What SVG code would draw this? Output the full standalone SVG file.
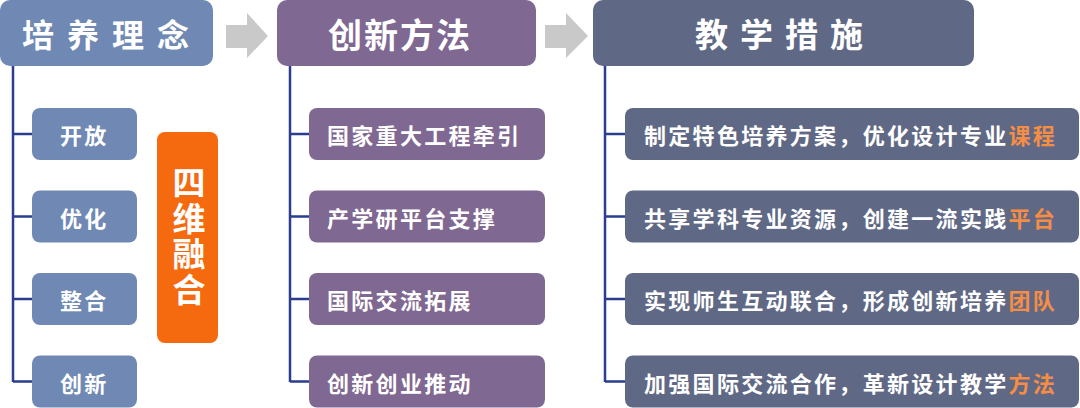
<svg xmlns="http://www.w3.org/2000/svg" width="1080" height="408" viewBox="0 0 1080 408">
<style>
.t{font-family:"Noto Sans CJK SC","Noto Sans",sans-serif;font-weight:700;fill:#ffffff;dominant-baseline:central}
.h{font-size:33px}
.s{font-size:22px;letter-spacing:2.3px}
.v{font-size:33px;writing-mode:vertical-rl;text-orientation:upright;letter-spacing:2.5px}
.c1{fill:#6f89b4}
.c2{fill:#7f6891}
.c3{fill:#5f6985}
.hl{fill:#f58d45}
.ln{fill:none;stroke:#2a3d8f;stroke-width:2.5}
.ar{fill:#c9c9c9}
</style>
<rect width="1080" height="408" fill="#ffffff"/>
<g id="connectors">
<path class="ln" d="M13,66 V382 M13,134 H32 M13,216.5 H32 M13,299 H32 M13,381.5 H32"/>
<path class="ln" d="M290,66 V382 M290,134 H309 M290,216.5 H309 M290,299 H309 M290,381.5 H309"/>
<path class="ln" d="M605,66 V382 M605,134 H625 M605,216.5 H625 M605,299 H625 M605,381.5 H625"/>
<polygon class="ar" points="226,25 247,25 247,13 268,36 247,58 247,48 226,48"/>
<polygon class="ar" points="545,25 566,25 566,13 588,36 566,58 566,48 545,48"/>
</g>
<g id="h1"><rect class="c1" x="0" y="0" width="213" height="66" rx="10"/><text class="t h" x="22" y="33" style="font-size:32px;letter-spacing:13px">培养理念</text></g>
<g id="h2"><rect class="c2" x="277" y="0" width="259" height="66" rx="10"/><text class="t h" x="328" y="33" style="font-size:34px;letter-spacing:2px">创新方法</text></g>
<g id="h3"><rect class="c3" x="593" y="0" width="381" height="66" rx="10"/><text class="t h" x="695" y="33" style="letter-spacing:12px">教学措施</text></g>

<g id="a1"><rect class="c1" x="32" y="108" width="105" height="52" rx="8"/><text class="t s" x="60" y="134">开放</text></g>
<g id="a2"><rect class="c1" x="32" y="190.5" width="105" height="52" rx="8"/><text class="t s" x="60" y="216.5">优化</text></g>
<g id="a3"><rect class="c1" x="32" y="273" width="105" height="52" rx="8"/><text class="t s" x="60" y="299">整合</text></g>
<g id="a4"><rect class="c1" x="32" y="355.5" width="105" height="52" rx="8"/><text class="t s" x="60" y="381.5">创新</text></g>

<g id="fusion"><rect x="157" y="132" width="61" height="211" rx="8" fill="#f56a0f"/>
<text class="t v" x="189" y="166">四维融合</text></g>

<g id="b1"><rect class="c2" x="309" y="108" width="236" height="52" rx="8"/><text class="t s" x="327" y="134">国家重大工程牵引</text></g>
<g id="b2"><rect class="c2" x="309" y="190.5" width="236" height="52" rx="8"/><text class="t s" x="327" y="216.5">产学研平台支撑</text></g>
<g id="b3"><rect class="c2" x="309" y="273" width="236" height="52" rx="8"/><text class="t s" x="327" y="299">国际交流拓展</text></g>
<g id="b4"><rect class="c2" x="309" y="355.5" width="236" height="52" rx="8"/><text class="t s" x="327" y="381.5">创新创业推动</text></g>

<g id="d1"><rect class="c3" x="625" y="108" width="454" height="52" rx="8"/><text class="t s" x="644" y="134">制定特色培养方案，优化设计专业<tspan class="hl">课程</tspan></text></g>
<g id="d2"><rect class="c3" x="625" y="190.5" width="454" height="52" rx="8"/><text class="t s" x="644" y="216.5">共享学科专业资源，创建一流实践<tspan class="hl">平台</tspan></text></g>
<g id="d3"><rect class="c3" x="625" y="273" width="454" height="52" rx="8"/><text class="t s" x="644" y="299">实现师生互动联合，形成创新培养<tspan class="hl">团队</tspan></text></g>
<g id="d4"><rect class="c3" x="625" y="355.5" width="454" height="52" rx="8"/><text class="t s" x="644" y="381.5">加强国际交流合作，革新设计教学<tspan class="hl">方法</tspan></text></g>
</svg>
